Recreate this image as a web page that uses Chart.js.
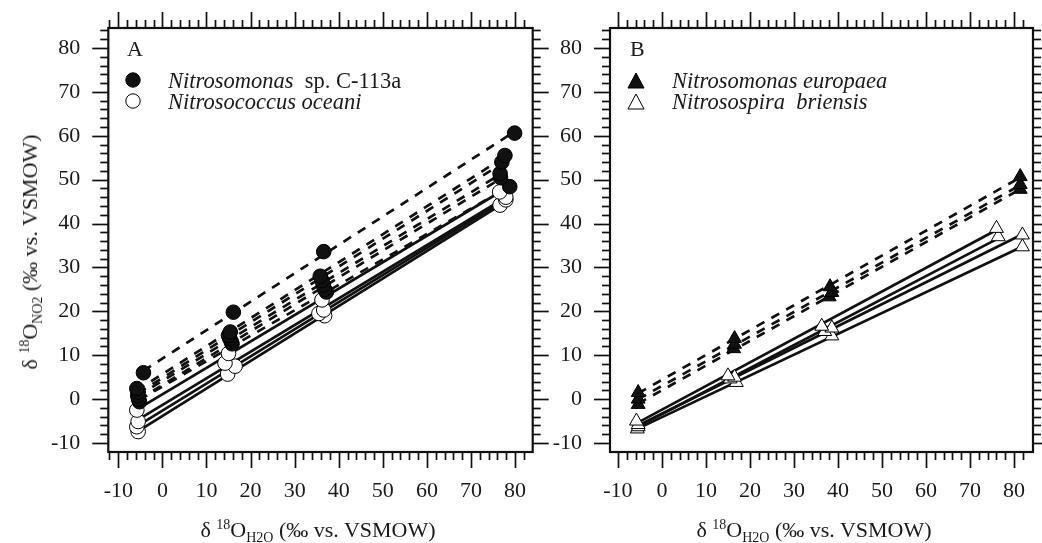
<!DOCTYPE html>
<html><head><meta charset="utf-8">
<script src="https://cdn.jsdelivr.net/npm/chart.js@4/dist/chart.umd.min.js"></script>
<style>
body{margin:0;width:1042px;height:543px;background:#fff;position:relative;overflow:hidden;font-family:"Liberation Serif","Times New Roman",serif;color:#1a1a1a;}
canvas{position:absolute;top:0;}
.t{position:absolute;white-space:nowrap;line-height:1;}
.leg{font-size:22.5px;}
.mk{position:absolute;}
sup,sub{font-size:14px;line-height:0;}
.ttl{font-size:22px;}
</style></head>
<body>
<canvas id="cA" width="560" height="543" style="left:0;width:560px;height:543px"></canvas>
<canvas id="cB" width="522" height="543" style="left:520px;width:522px;height:543px"></canvas>

<div class="t" style="left:127px;top:38px;font-size:22px">A</div>
<svg class="mk" style="left:125px;top:72px" width="16" height="16"><circle cx="8" cy="8" r="7.2" fill="#111" stroke="#000"/></svg>
<div class="t leg" style="left:168px;top:70px"><i>Nitrosomonas</i>&nbsp; sp. C-113a</div>
<svg class="mk" style="left:125px;top:93px" width="16" height="16"><circle cx="8" cy="8" r="7.2" fill="#fff" stroke="#000"/></svg>
<div class="t leg" style="left:168px;top:91px"><i>Nitrosococcus oceani</i></div>

<div class="t" style="left:630px;top:38px;font-size:22px">B</div>
<svg class="mk" style="left:627px;top:72px" width="18" height="17"><polygon points="9,1 17,16 1,16" fill="#111" stroke="#000"/></svg>
<div class="t leg" style="left:672px;top:70px"><i>Nitrosomonas europaea</i></div>
<svg class="mk" style="left:627px;top:93px" width="18" height="17"><polygon points="9,1 17,16 1,16" fill="#fff" stroke="#000"/></svg>
<div class="t leg" style="left:672px;top:91px"><i>Nitrosospira&nbsp; briensis</i></div>

<div class="t ttl" id="yt" style="left:30px;top:252px;transform:translate(-50%,-50%) rotate(-90deg)">δ <sup>18</sup>O<sub>NO2</sub> (‰ vs. VSMOW)</div>
<div class="t ttl" style="left:318px;top:519px;transform:translateX(-50%)">δ <sup>18</sup>O<sub>H2O</sub> (‰ vs. VSMOW)</div>
<div class="t ttl" style="left:814px;top:519px;transform:translateX(-50%)">δ <sup>18</sup>O<sub>H2O</sub> (‰ vs. VSMOW)</div>

<script>
// ---- Data ----
// Panel A: Nitrosomonas sp. C-113a (filled circles, dashed fits)
const c113aX = [
  [-4.3, 16.1, 36.6, 79.9],
  [-5.8, 15.4, 35.8, 77.7],
  [-5.5, 15.0, 36.2, 77.0],
  [-5.6, 15.3, 36.5, 76.6],
  [-5.4, 15.6, 36.8, 76.7],
  [-5.2, 15.8, 37.2, 78.8]
];
const c113aY = [
  [6.0, 19.8, 33.6, 60.6],
  [2.4, 15.3, 28.0, 55.5],
  [1.6, 14.5, 27.0, 54.0],
  [0.8, 13.8, 26.0, 51.4],
  [0.0, 13.1, 25.0, 50.5],
  [-0.6, 12.6, 24.4, 48.4]
];
// Panel A: Nitrosococcus oceani (open circles, solid fits)
const oceaniX = [
  [-5.8, 15.0, 36.2, 76.5],
  [-5.5, 14.2, 36.6, 77.9],
  [-5.8, 16.5, 35.5, 77.9],
  [-5.5, 14.8, 36.8, 76.6]
];
const oceaniY = [
  [-2.5, 10.4, 22.6, 47.2],
  [-5.1, 8.2, 20.3, 46.0],
  [-6.3, 7.5, 19.5, 45.4],
  [-7.4, 5.7, 19.0, 44.2]
];
// Panel B: Nitrosomonas europaea (filled triangles, dashed fits)
const europaeaX = [
  [-5.4, 16.5, 38.2, 81.4],
  [-5.4, 16.5, 38.6, 81.4],
  [-5.4, 16.3, 38.0, 81.4]
];
const europaeaY = [
  [1.5, 13.8, 25.6, 50.7],
  [0.0, 12.5, 24.3, 48.9],
  [-1.2, 11.5, 23.3, 47.8]
];
// Panel B: Nitrosospira briensis (open triangles, solid fits)
const briensisX = [
  [-5.8, 15.0, 36.3, 76.0],
  [-5.4, 16.5, 38.6, 76.4],
  [-5.4, 15.5, 37.0, 81.9],
  [-5.6, 16.9, 38.6, 81.9]
];
const briensisY = [
  [-5.0, 5.3, 16.6, 38.9],
  [-5.8, 5.0, 16.2, 37.0],
  [-6.3, 4.6, 15.4, 37.4],
  [-6.8, 3.8, 14.4, 34.7]
];
const tickLabelsX = [-10, 0, 10, 20, 30, 40, 50, 60, 70, 80];
const tickLabelsY = [-10, 0, 10, 20, 30, 40, 50, 60, 70, 80];

// ---- helpers ----
const INK = '#111';
function fit(xs, ys) {
  const n = xs.length;
  const mx = xs.reduce((a, b) => a + b, 0) / n, my = ys.reduce((a, b) => a + b, 0) / n;
  let sxy = 0, sxx = 0;
  for (let i = 0; i < n; i++) { sxy += (xs[i] - mx) * (ys[i] - my); sxx += (xs[i] - mx) ** 2; }
  const b = sxy / sxx, a = my - b * mx;
  const x0 = Math.min(...xs), x1 = Math.max(...xs);
  return [{x: x0, y: a + b * x0}, {x: x1, y: a + b * x1}];
}
function groupDatasets(X, Y, opt) {
  const out = [];
  X.forEach((xs, i) => {
    out.push({
      data: fit(xs, Y[i]), showLine: true, pointRadius: 0, borderColor: INK,
      borderWidth: 2.7, borderDash: opt.dashed ? [9, 8] : [], order: 3
    });
  });
  X.forEach((xs, i) => {
    out.push({
      data: xs.map((x, k) => ({x, y: Y[i][k]})), showLine: false,
      pointStyle: opt.style, pointRadius: opt.style === 'triangle' ? 8 : 7.3,
      backgroundColor: opt.filled ? INK : '#fff', borderColor: '#000', borderWidth: 1,
      order: opt.filled ? 1 : 2
    });
  });
  return out;
}
const frameTicks = {
  id: 'frameTicks',
  afterDraw(chart) {
    const {ctx, chartArea: a, scales: {x, y}} = chart;
    ctx.save();
    ctx.strokeStyle = INK;
    ctx.lineCap = 'butt';
    ctx.lineWidth = 1.7;
    const seg = (x0, y0, x1, y1) => { ctx.beginPath(); ctx.moveTo(x0, y0); ctx.lineTo(x1, y1); ctx.stroke(); };
    x.ticks.forEach(t => {
      const p = Math.round(x.getPixelForValue(t.value)) + 0.5;
      if (p < a.left + 1 || p > a.right - 1) return;
      const L = (t.value % 10 === 0) ? 16 : 8;
      seg(p, a.bottom, p, a.bottom + L);
      seg(p, a.top, p, a.top - L);
    });
    y.ticks.forEach(t => {
      const p = Math.round(y.getPixelForValue(t.value)) + 0.5;
      if (p < a.top + 1 || p > a.bottom - 1) return;
      const L = (t.value % 10 === 0) ? 16 : 8;
      seg(a.left, p, a.left - L, p);
      seg(a.right, p, a.right + L, p);
    });
    ctx.lineWidth = 2.2;
    ctx.strokeRect(a.left, a.top, a.right - a.left, a.bottom - a.top);
    ctx.restore();
  }
};
function makeChart(id, datasets, xmin, xmax, yAxisWidth, rightPad) {
  const font = {family: '"Liberation Serif","Times New Roman",serif', size: 22};
  return new Chart(document.getElementById(id), {
    type: 'scatter',
    data: {datasets},
    options: {
      responsive: false, animation: false, events: [],
      layout: {autoPadding: false, padding: {top: 28, right: rightPad, left: 0, bottom: 0}},
      plugins: {legend: {display: false}, tooltip: {enabled: false}},
      scales: {
        x: {
          type: 'linear', min: xmin, max: xmax,
          grid: {display: false}, border: {display: false},
          ticks: {stepSize: 2, includeBounds: false, autoSkip: false, maxRotation: 0, padding: 18,
            color: '#1a1a1a', font,
            callback: v => tickLabelsX.includes(v) ? String(v) : ''},
          afterFit: s => { s.height = 91; s.paddingLeft = 0; s.paddingRight = 0; s.paddingTop = 0; s.paddingBottom = 0; }
        },
        y: {
          type: 'linear', min: -12.05, max: 84.55,
          grid: {display: false}, border: {display: false},
          ticks: {stepSize: 2, includeBounds: false, autoSkip: false, padding: 20,
            color: '#1a1a1a', font,
            callback: v => tickLabelsY.includes(v) ? String(v) : ''},
          afterFit: s => { s.width = yAxisWidth; s.paddingLeft = 0; s.paddingRight = 0; s.paddingTop = 0; s.paddingBottom = 0; }
        }
      }
    },
    plugins: [frameTicks]
  });
}
const dsA = [
  ...groupDatasets(c113aX, c113aY, {dashed: true, style: 'circle', filled: true}),
  ...groupDatasets(oceaniX, oceaniY, {dashed: false, style: 'circle', filled: false})
];
const dsB = [
  ...groupDatasets(europaeaX, europaeaY, {dashed: true, style: 'triangle', filled: true}),
  ...groupDatasets(briensisX, briensisY, {dashed: false, style: 'triangle', filled: false})
];
makeChart('cA', dsA, -12.27, 84.0, 108.3, 27.3);
makeChart('cB', dsB, -11.8, 84.3, 90, 9);
</script>
</body></html>
